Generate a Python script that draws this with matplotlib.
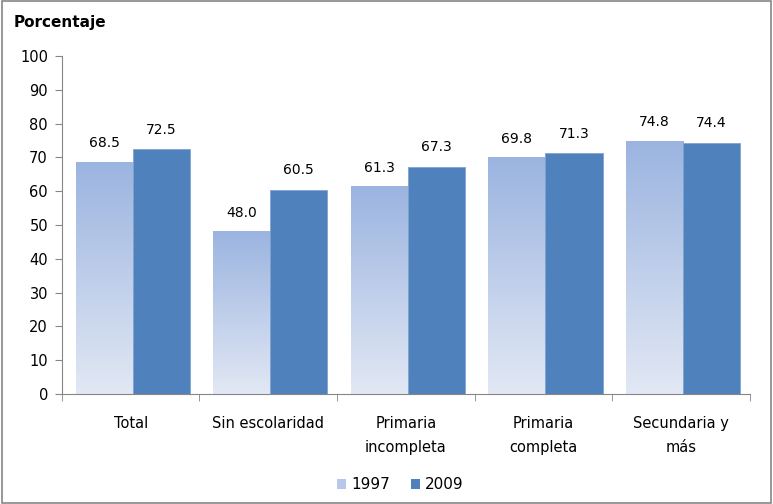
import numpy as np
import matplotlib.pyplot as plt
from matplotlib.colors import LinearSegmentedColormap
from matplotlib.patches import Rectangle

categories = ["Total", "Sin escolaridad", "Primaria\nincompleta", "Primaria\ncompleta", "Secundaria y\nmás"]
v1997 = [68.5, 48.0, 61.3, 69.8, 74.8]
v2009 = [72.5, 60.5, 67.3, 71.3, 74.4]

c2009 = "#4F81BD"
grad = LinearSegmentedColormap.from_list("g", ["#E2E8F4", "#9BB4E0"])
axis_col = "#868686"

plt.rcParams["font.family"] = ["DejaVu Sans"]
fig = plt.figure(figsize=(7.73, 5.04), dpi=100)
ax = fig.add_axes([0.080, 0.218, 0.890, 0.671])

x = np.arange(len(categories)) + 0.015
w = 0.415
gradient = np.linspace(0, 1, 256).reshape(-1, 1)
for xi, a, b in zip(x, v1997, v2009):
    ax.imshow(gradient, cmap=grad, origin="lower", aspect="auto",
              extent=(xi - w, xi, 0, a), zorder=2)
    ax.bar(xi + w / 2, b, width=w, color=c2009, edgecolor="#7FA3D0", linewidth=0.6, zorder=2)
    ax.text(xi - w / 2, a + 3.6, f"{a:.1f}", ha="center", va="bottom", fontsize=10)
    ax.text(xi + w / 2, b + 3.6, f"{b:.1f}", ha="center", va="bottom", fontsize=10)

ax.set_xlim(-0.5, len(categories) - 0.5)
ax.set_ylim(0, 100)
ax.set_yticks(range(0, 101, 10))
ax.set_xticks(np.arange(len(categories)))
ax.set_xticklabels(categories, fontsize=10.5, linespacing=1.75)
ax.set_xticks(np.arange(-0.5, len(categories), 1), minor=True)
ax.tick_params(axis="x", which="major", length=0, pad=16)
ax.tick_params(axis="x", which="minor", length=5, color=axis_col)
ax.tick_params(axis="y", length=5, color=axis_col, labelsize=10.5, pad=5)
for s in ["top", "right"]:
    ax.spines[s].set_visible(False)
for s in ["left", "bottom"]:
    ax.spines[s].set_color(axis_col)

fig.text(0.018, 0.955, "Porcentaje", fontsize=11, fontweight="bold", va="center")

# legend
h1 = Rectangle((0, 0), 1, 1, facecolor="#B7C8E8")
h2 = Rectangle((0, 0), 1, 1, facecolor=c2009)
fig.legend([h1, h2], ["1997", "2009"], loc="center", bbox_to_anchor=(0.518, 0.038),
           ncol=2, frameon=False, fontsize=11, handlelength=0.6, handleheight=0.6,
           handletextpad=0.3, columnspacing=1.4)

fig.add_artist(Rectangle((0.002, 0.002), 0.996, 0.996, transform=fig.transFigure,
                         fill=False, edgecolor=axis_col, linewidth=1.2))

fig.savefig("out.png", dpi=100)
